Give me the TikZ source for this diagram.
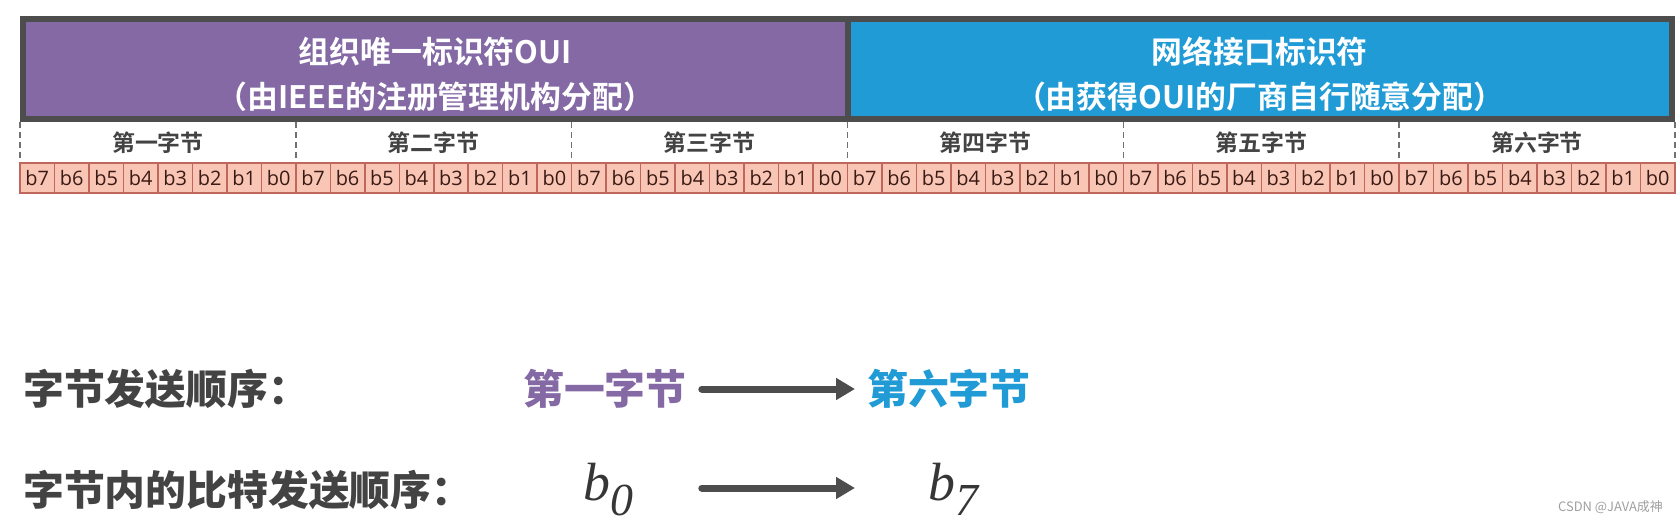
\documentclass[tikz,border=0pt]{standalone}
\usepackage[no-math]{fontspec}
\setmainfont{Noto Sans CJK SC}[BoldFont=* Bold]
\setsansfont{Open Sans}
\newfontfamily\heavyfont{Noto Sans CJK SC Black}
\newfontfamily\timesfont{Liberation Serif}
\usetikzlibrary{positioning,arrows.meta}
\definecolor{ouipurple}{HTML}{8469A5}
\definecolor{nicblue}{HTML}{219BD6}
\definecolor{boxgray}{HTML}{4D4D4D}
\definecolor{textgray}{HTML}{434343}
\definecolor{bitfill}{HTML}{F9C5B5}
\definecolor{bitline}{HTML}{C0675D}
\definecolor{bittext}{HTML}{3A1A14}
\newcommand{\bitsub}[1]{\raisebox{-15bp}{\fontsize{46}{50}\selectfont #1}}

\begin{document}
\begin{tikzpicture}[x=1bp,y=-1bp,every node/.style={inner sep=0pt},
 fieldbox/.style={draw=boxgray,line width=6bp,minimum width=824.5bp,minimum height=100bp},
 head/.style={text=white,align=center,font=\fontsize{31}{45}\selectfont\bfseries},
 byte/.style={text=textgray,font=\fontsize{23}{26}\selectfont\bfseries},
 bit/.style={draw=bitline,fill=bitfill,line width=1.5bp,minimum width=34.48bp,
   minimum height=30bp,text=bittext,font=\sffamily\fontsize{20}{22}\selectfont},
 sep/.style={draw=boxgray!80,line width=1.5bp,dash pattern=on 6bp off 4bp},
 order/.style={text=textgray,font=\heavyfont\fontsize{41}{46}\selectfont},
 bitname/.style={anchor=base west,text=textgray!80!black,font=\timesfont\itshape\fontsize{54}{60}\selectfont},
 flow/.style={draw=boxgray,line width=7bp,line cap=round,-{Triangle[length=19bp,width=21bp]}}]
\useasboundingbox (0,0) rectangle (1678,525);
% header fields
\node[fieldbox,fill=ouipurple] (oui) at (435.25,69) {};
\node[fieldbox,fill=nicblue] (nic) at (1259.75,69) {};
\node[head] (ouitext) at (435.25,74) {组织唯一标识符OUI\\（由IEEE的注册管理机构分配）};
\node[head] (nictext) at (1259.75,74) {网络接口标识符\\（由获得OUI的厂商自行随意分配）};
% byte labels
\foreach \n [count=\j from 0] in {一,二,三,四,五,六}
  \node[byte] (byte\j) at ({20+275.83*(\j+0.5)},143) {第\n{}字节};
\foreach \j in {0,...,6}
  \draw[sep] ({20+275.83*\j},122) -- ({20+275.83*\j},163);
% bits
\foreach \i in {0,...,47} {
  \pgfmathtruncatemacro\k{7-mod(\i,8)}
  \node[bit] (bit\i) at ({20+34.479*(\i+0.5)},178) {b\k};
}
% sending order
\node[order,anchor=west] (bytelabel) at (23,389) {字节发送顺序：};
\node[order,anchor=west,text=ouipurple] (first) at (523,389) {第一字节};
\node[order,anchor=west,text=nicblue] (sixth) at (867,389) {第六字节};
\draw[flow,shorten <=15bp,shorten >=12bp] (first) -- (sixth);
\node[order,anchor=west] (bitlabel) at (23,490) {字节内的比特发送顺序：};
\node[bitname] (b0) at (583,500) {b\bitsub{0}};
\node[bitname] (b7) at (928,500) {b\bitsub{7}};
\draw[flow] ([xshift=15bp]first.east |- 0,488) -- ([xshift=-12bp]sixth.west |- 0,488);
\node[anchor=east,text=gray!75,font=\fontsize{13}{15}\selectfont] (mark) at (1663,507) {CSDN @JAVA成神};
\end{tikzpicture}
\end{document}
